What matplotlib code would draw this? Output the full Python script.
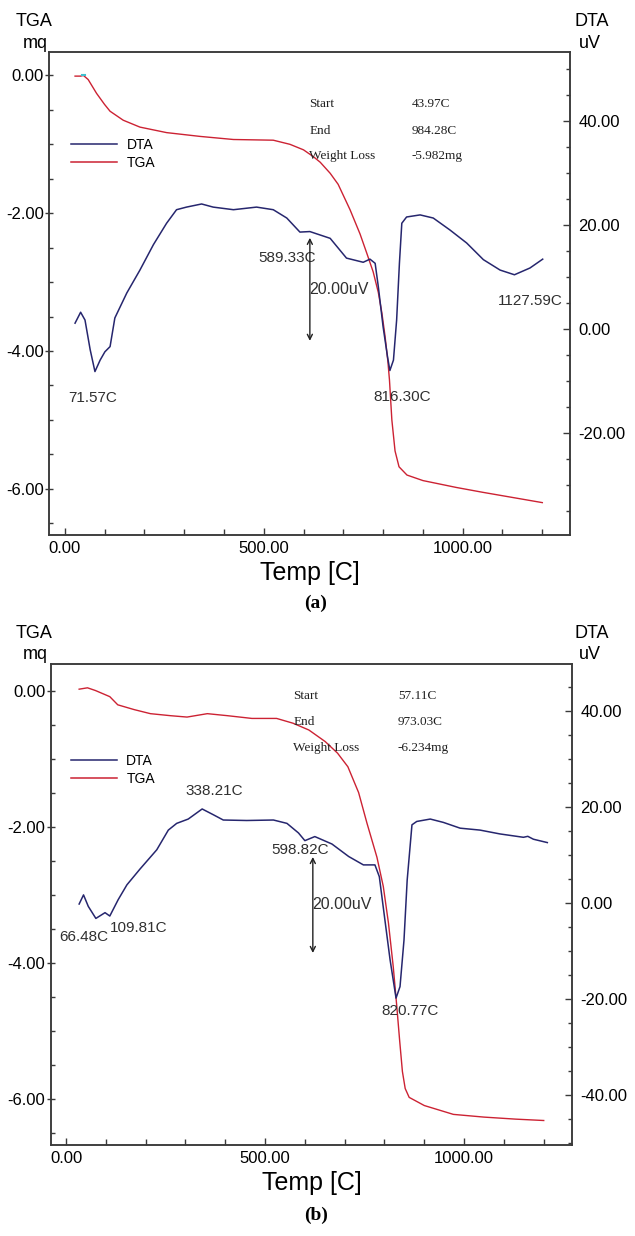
import matplotlib
matplotlib.use("Agg")
import matplotlib.pyplot as plt
from matplotlib.ticker import MultipleLocator, FormatStrFormatter
from matplotlib.lines import Line2D

plt.rcParams['font.family'] = ['Liberation Sans', 'DejaVu Sans']

W, H = 635, 1236

# --- panel (a) data ---
temp_tga_a = [26, 40, 47, 59, 80, 100, 114, 147, 189, 256, 340, 424, 524, 566, 600, 625, 642,
              667, 687, 717, 742, 759, 775, 788, 797, 805, 812, 816, 822, 830, 840, 860, 900,
              984, 1050, 1120, 1200]
tga_a = [-0.01, -0.01, 0.0, -0.06, -0.26, -0.42, -0.52, -0.65, -0.75, -0.83, -0.885, -0.93, -0.94,
         -1.0, -1.08, -1.18, -1.26, -1.42, -1.58, -1.95, -2.3, -2.58, -2.85, -3.15, -3.45, -3.79,
         -4.15, -4.42, -5.0, -5.45, -5.68, -5.8, -5.88, -5.98, -6.05, -6.12, -6.2]
temp_dta_a = [26, 40, 51, 64, 76, 89, 101, 114, 126, 156, 189, 223, 256, 281, 306, 344, 373, 424,
              482, 524, 558, 591, 616, 667, 708, 750, 767, 780, 788, 800, 811, 817, 826, 834, 841,
              847, 859, 893, 926, 968, 1010, 1052, 1094, 1130, 1169, 1201]
dta_a = [1.1, 3.2, 1.7, -4.0, -8.2, -6.0, -4.4, -3.4, 2.1, 6.9, 11.3, 16.2, 20.3, 22.9, 23.4, 24.0,
         23.4, 22.9, 23.4, 22.9, 21.3, 18.6, 18.7, 17.4, 13.6, 12.8, 13.4, 12.6, 8.1, 0.4, -5.3,
         -8.0, -6.0, 1.7, 12.6, 20.3, 21.5, 21.9, 21.3, 19.0, 16.5, 13.3, 11.3, 10.4, 11.7, 13.4]
peak_labels_a = ["71.57C", "589.33C", "816.30C", "1127.59C"]
info_values_a = ["43.97C", "984.28C", "-5.982mg"]

# --- panel (b) data ---
temp_tga_b = [33, 54, 74, 110, 130, 171, 212, 263, 304, 355, 406, 467, 529, 570, 610, 651, 682,
              708, 735, 756, 781, 797, 810, 822, 831, 838, 845, 852, 862, 900, 973, 1050, 1130, 1200]
tga_b = [0.02, 0.04, 0.0, -0.09, -0.21, -0.28, -0.34, -0.37, -0.39, -0.34, -0.37, -0.41, -0.41,
         -0.48, -0.58, -0.75, -0.92, -1.12, -1.5, -1.95, -2.45, -2.88, -3.42, -4.06, -4.65, -5.14,
         -5.6, -5.85, -5.98, -6.1, -6.23, -6.27, -6.3, -6.32]
temp_dta_b = [33, 44, 56, 75, 98, 110, 131, 153, 186, 228, 257, 278, 307, 342, 370, 395, 454, 521,
              555, 584, 600, 625, 668, 710, 747, 776, 787, 801, 814, 829, 839, 849, 857, 869, 881,
              915, 948, 990, 1040, 1090, 1149, 1160, 1174, 1209]
dta_b = [-0.3, 1.6, -0.8, -3.3, -2.1, -2.8, 0.6, 3.7, 7.0, 11.0, 15.1, 16.5, 17.4, 19.5, 18.3, 17.2,
         17.1, 17.2, 16.5, 14.5, 12.9, 13.75, 12.2, 9.6, 7.85, 7.85, 5.4, -3.6, -11.9, -19.9, -17.5,
         -7.8, 4.7, 16.2, 16.9, 17.4, 16.7, 15.5, 15.1, 14.3, 13.6, 13.8, 13.2, 12.5]
peak_labels_b = ["66.48C", "109.81C", "338.21C", "598.82C", "820.77C"]
info_values_b = ["57.11C", "973.03C", "-6.234mg"]

info_names = ["Start", "End", "Weight Loss"]

DTA_COLOR = '#26266e'
TGA_COLOR = '#cc2233'
AX_COLOR = '#3a3a3a'
TXT_COLOR = '#303030'

fig = plt.figure(figsize=(W / 100, H / 100), dpi=100)


def px_rect(l, t, r, b):
    return [l / W, 1 - b / H, (r - l) / W, (b - t) / H]


def draw_panel(rect, xlim, tga_lim, dta_lim, t_tga, tga, t_dta, dta,
               labels, label_pos, arrow, info_vals, info_x, info_y, leg_anchor):
    ax = fig.add_axes(rect)
    ax2 = ax.twinx()
    ax.plot(t_tga, tga, color=TGA_COLOR, lw=1.0)
    ax2.plot(t_dta, dta, color=DTA_COLOR, lw=1.1)
    ax.set_xlim(*xlim)
    ax.set_ylim(*tga_lim)
    ax2.set_ylim(*dta_lim)

    ax.xaxis.set_major_locator(MultipleLocator(500))
    ax.xaxis.set_minor_locator(MultipleLocator(100))
    ax.yaxis.set_major_locator(MultipleLocator(2))
    ax.yaxis.set_minor_locator(MultipleLocator(0.5))
    ax2.yaxis.set_major_locator(MultipleLocator(20))
    ax2.yaxis.set_minor_locator(MultipleLocator(5))
    for a in (ax.xaxis, ax.yaxis, ax2.yaxis):
        a.set_major_formatter(FormatStrFormatter('%.2f'))

    for a in (ax, ax2):
        for s in a.spines.values():
            s.set_color(AX_COLOR)
            s.set_linewidth(1.1)
    ax.tick_params(axis='x', which='major', direction='in', length=5, width=1,
                   color=AX_COLOR, labelsize=12, pad=4)
    ax.tick_params(axis='x', which='minor', direction='in', length=4, width=1, color=AX_COLOR)
    ax.tick_params(axis='y', which='major', direction='inout', length=6, width=1,
                   color=AX_COLOR, labelsize=12, pad=1)
    ax.tick_params(axis='y', which='minor', direction='in', length=3, width=1, color=AX_COLOR)
    ax2.tick_params(axis='y', which='major', direction='in', length=5, width=1,
                    color=AX_COLOR, labelsize=12, pad=6)
    ax2.tick_params(axis='y', which='minor', direction='in', length=3, width=1, color=AX_COLOR)

    ax.set_xlabel("Temp [C]", fontsize=18, labelpad=4)

    for txt, (x, y) in zip(labels, label_pos):
        ax2.text(x, y, txt, fontsize=11, color=TXT_COLOR, ha='center', va='center')

    x0, y0, y1 = arrow
    ax2.annotate('', xy=(x0, y1), xytext=(x0, y0),
                 arrowprops=dict(arrowstyle='<->', color='#202020', lw=1.0,
                                 mutation_scale=9, shrinkA=0, shrinkB=0))
    ax2.text(x0 - 2, (y0 + y1) / 2, "20.00uV", fontsize=11.5, color=TXT_COLOR,
             ha='left', va='center')

    for name, val, y in zip(info_names, info_vals, info_y):
        ax.text(info_x[0], y, name, transform=ax.transAxes, fontsize=9.5,
                family='Liberation Serif', color='#202020', va='center')
        ax.text(info_x[1], y, val, transform=ax.transAxes, fontsize=9.5,
                family='Liberation Serif', color='#202020', va='center')

    handles = [Line2D([], [], color=DTA_COLOR, lw=1.1), Line2D([], [], color=TGA_COLOR, lw=1.1)]
    ax.legend(handles, ["DTA", "TGA"], loc='center left', bbox_to_anchor=leg_anchor,
              frameon=False, fontsize=10, handlelength=3.3, handletextpad=0.7,
              labelspacing=0.3, borderpad=0, borderaxespad=0)
    return ax, ax2


# panel (a)
ax_a, _ = draw_panel(px_rect(49.3, 52, 570, 535), (-38.7, 1269.6), (-6.67, 0.34), (-39.6, 53.2),
                     temp_tga_a, tga_a, temp_dta_a, dta_a,
                     peak_labels_a, [(71, -13.3), (558, 13.7), (847, -13.0), (1169, 5.3)],
                     (616, -2.3, 17.5), info_values_a, (0.499, 0.696), (0.892, 0.837, 0.785),
                     (0.042, 0.789))
# small cyan marker at the TGA start point
ax_a.plot([44, 50], [0.0, 0.0], color='#40c0d0', lw=1.5)

# panel (b)
draw_panel(px_rect(51, 664, 572, 1145), (-37.7, 1271), (-6.68, 0.39), (-50.5, 49.7),
           temp_tga_b, tga_b, temp_dta_b, dta_b,
           peak_labels_b, [(44, -7.1), (182, -5.2), (372, 23.3), (588, 11.0), (864, -22.5)],
           (620, -10.5, 9.5), info_values_b, (0.465, 0.666), (0.933, 0.880, 0.825),
           (0.038, 0.78))

# axis headers
for ytop in (0, 612):
    fig.text(34 / W, 1 - (21.5 + ytop) / H, "TGA", fontsize=13, ha='center', va='center')
    fig.text(35 / W, 1 - (43 + ytop) / H, "mq", fontsize=13, ha='center', va='center')
    fig.text(592 / W, 1 - (21.5 + ytop) / H, "DTA", fontsize=13, ha='center', va='center')
    fig.text(590 / W, 1 - (43 + ytop) / H, "uV", fontsize=13, ha='center', va='center')

fig.text(316 / W, 1 - 603 / H, "(a)", fontsize=14, fontweight='bold',
         family='Liberation Serif', ha='center', va='center')
fig.text(316 / W, 1 - 1215 / H, "(b)", fontsize=14, fontweight='bold',
         family='Liberation Serif', ha='center', va='center')

fig.savefig("out.png", dpi=100)
